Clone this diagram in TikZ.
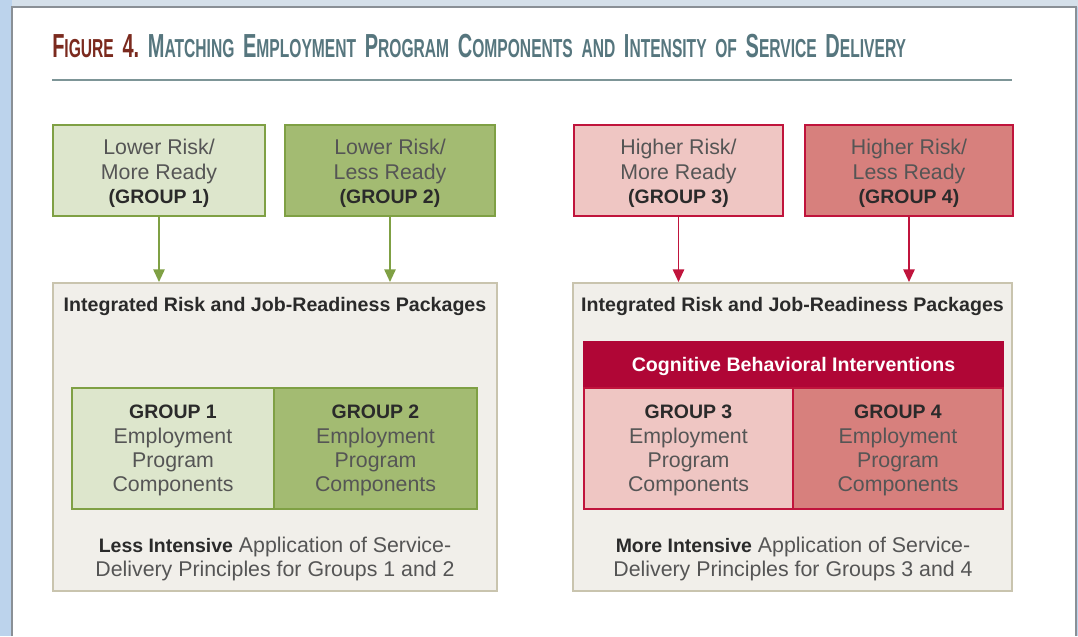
\documentclass[tikz,border=0pt]{standalone}
\usepackage{fontspec}
\setmainfont{Liberation Sans}
\newfontfamily\titlefont[FakeStretch=0.6,UprightFont={* Bold}]{Liberation Sans}
\usetikzlibrary{arrows.meta}
\definecolor{bgblue}{HTML}{BCD3EC}
\definecolor{bgtop}{HTML}{D5E0EA}
\definecolor{panelline}{HTML}{8A9096}
\definecolor{titlered}{HTML}{7B2A1E}
\definecolor{titleteal}{HTML}{56767E}
\definecolor{rulecol}{HTML}{7D9597}
\definecolor{glight}{HTML}{DDE6CC}
\definecolor{gdark}{HTML}{A3BB72}
\definecolor{gline}{HTML}{7FA044}
\definecolor{plight}{HTML}{EFC6C3}
\definecolor{pdark}{HTML}{D7807D}
\definecolor{pline}{HTML}{C0143C}
\definecolor{crimson}{HTML}{B00636}
\definecolor{bigfill}{HTML}{F1EFEA}
\definecolor{bigline}{HTML}{C9C4AE}
\definecolor{txtgray}{HTML}{555555}
\definecolor{txtdark}{HTML}{2A2A2A}
\newcommand\bt[1]{{\color{txtdark}\bfseries\fontsize{14.6}{18}\selectfont #1}}
\newcommand\SCx[2]{{\fontsize{25}{25}\selectfont #1}{\fontsize{19.5}{19.5}\selectfont #2}}
\newcommand\ws{\hspace{6.5pt}}
\tikzset{
  grpbox/.style={draw, line width=1.5pt, minimum height=68.25pt, align=center, text=txtgray,
    font=\fontsize{16}{18.3}\selectfont, inner sep=0pt},
  bigbox/.style={draw=bigline, fill=bigfill, line width=1.5pt, minimum width=333pt, minimum height=231pt, inner sep=0pt},
  compbox/.style={draw, line width=1.5pt, minimum height=90.75pt, align=center, text=txtgray,
    font=\fontsize{16}{18.2}\selectfont, inner sep=0pt},
  garrow/.style={draw=gline, line width=1.3pt, -{Triangle[width=8.5pt,length=9.5pt]}},
  parrow/.style={draw=pline, line width=1.3pt, -{Triangle[width=8.5pt,length=9.5pt]}},
  headtxt/.style={font=\bfseries\fontsize{14.7}{18}\selectfont, text=txtdark, inner sep=0pt},
  foottxt/.style={font=\fontsize{16}{18}\selectfont, text=txtgray, align=center, inner sep=0pt}
}
\begin{document}
\begin{tikzpicture}[x=0.75pt,y=-0.75pt]
\useasboundingbox (0,0) rectangle (1078,636);
% background frame
\fill[bgblue] (0,0) rectangle (1078,636);
\fill[bgtop] (12,0) rectangle (1078,7);
\fill[white] (12,7) rectangle (1076,636);
\draw[panelline, line width=1.2pt] (12,636) -- (12,7) -- (1076,7) -- (1076,636);
% title
\node[anchor=base west, inner sep=0pt, font=\titlefont, text=titleteal] (title) at (52,57)
 {\textcolor{titlered}{\SCx{F}{IGURE}\ws\SCx{4.}{}}\ws\SCx{M}{ATCHING}\ws\SCx{E}{MPLOYMENT}\ws\SCx{P}{ROGRAM}\ws\SCx{C}{OMPONENTS}\ws\SCx{}{AND}\ws\SCx{I}{NTENSITY}\ws\SCx{}{OF}\ws\SCx{S}{ERVICE}\ws\SCx{D}{ELIVERY}};
\coordinate (rl) at (52,80);
\coordinate (rr) at (1012,80);
\draw[rulecol, line width=1.5pt] (rl) -- (rr);
% top group boxes
\node[grpbox, draw=gline, fill=glight, minimum width=159pt] (g1) at (159,170.5) {\rule{0pt}{16pt}Lower Risk/\\More Ready\\\bt{(GROUP 1)}};
\node[grpbox, draw=gline, fill=gdark, minimum width=157.5pt] (g2) at (390,170.5) {\rule{0pt}{16pt}Lower Risk/\\Less Ready\\\bt{(GROUP 2)}};
\node[grpbox, draw=pline, fill=plight, minimum width=156.75pt] (g3) at (678.5,170.5) {\rule{0pt}{16pt}Higher Risk/\\More Ready\\\bt{(GROUP 3)}};
\node[grpbox, draw=pline, fill=pdark, minimum width=156pt] (g4) at (909,170.5) {\rule{0pt}{16pt}Higher Risk/\\Less Ready\\\bt{(GROUP 4)}};
% big boxes
\node[bigbox] (lbig) at (275,437) {};
\node[bigbox, minimum width=329.25pt] (rbig) at (792.5,437) {};
% arrows
\draw[garrow] (g1.south) -- (g1.south |- lbig.north);
\draw[garrow] (g2.south) -- (g2.south |- lbig.north);
\draw[parrow] (g3.south) -- (g3.south |- rbig.north);
\draw[parrow] (g4.south) -- (g4.south |- rbig.north);
% headers
\node[headtxt] (lhead) at (275,306) {Integrated Risk and Job-Readiness Packages};
\node[headtxt] (rhead) at (792.5,306) {Integrated Risk and Job-Readiness Packages};
% component boxes
\node[compbox, draw=gline, fill=glight, minimum width=151.5pt] (c1) at (173,448.5) {\rule{0pt}{13.5pt}\bt{GROUP 1}\\Employment\\Program\\Components};
\node[compbox, draw=gline, fill=gdark, minimum width=152.25pt] (c2) at (375.5,448.5) {\rule{0pt}{13.5pt}\bt{GROUP 2}\\Employment\\Program\\Components};
\node[draw=crimson, fill=crimson, line width=1.5pt, minimum width=314.25pt, minimum height=34.5pt, inner sep=0pt,
  text=white, font=\bfseries\fontsize{14.7}{18}\selectfont] (cbi) at (793.5,365) {\rule{0pt}{13.5pt}Cognitive Behavioral Interventions};
\node[compbox, draw=pline, fill=plight, minimum width=156.75pt] (c3) at (688.5,448.5) {\rule{0pt}{13.5pt}\bt{GROUP 3}\\Employment\\Program\\Components};
\node[compbox, draw=pline, fill=pdark, minimum width=157.5pt] (c4) at (898,448.5) {\rule{0pt}{13.5pt}\bt{GROUP 4}\\Employment\\Program\\Components};
% footers
\node[foottxt] (lfoot) at (275,559) {\bt{Less Intensive} Application of Service-\\Delivery Principles for Groups 1 and 2};
\node[foottxt] (rfoot) at (793,559) {\bt{More Intensive} Application of Service-\\Delivery Principles for Groups 3 and 4};
\end{tikzpicture}
\end{document}
